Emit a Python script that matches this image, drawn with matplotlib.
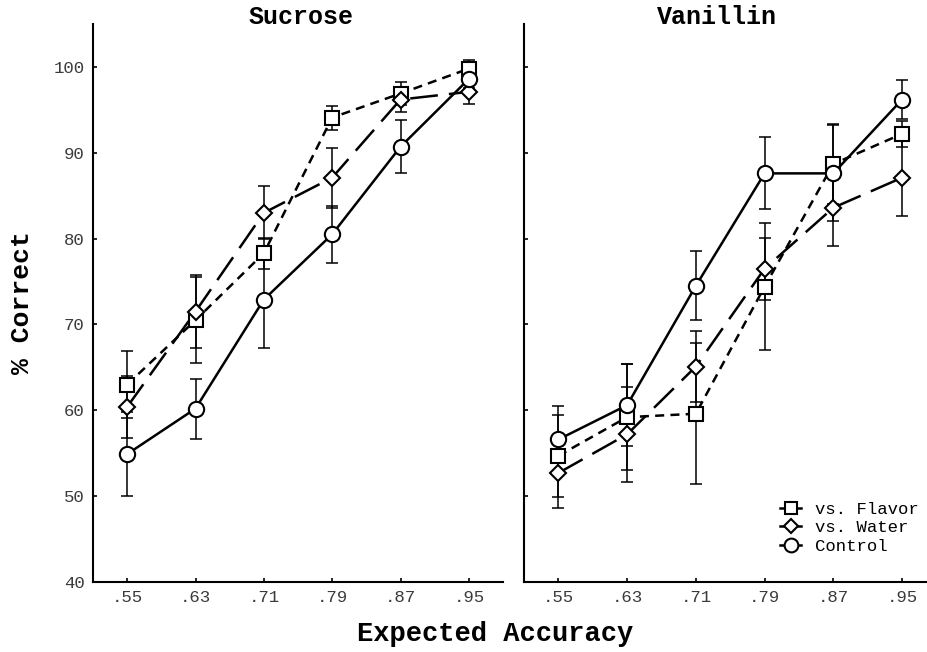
import matplotlib
matplotlib.use("Agg")
import matplotlib.pyplot as plt
from matplotlib.lines import Line2D

plt.rcParams['font.family'] = ['Liberation Mono', 'DejaVu Sans Mono']
plt.rcParams['lines.scale_dashes'] = False

x_vals = [0.55, 0.63, 0.71, 0.79, 0.87, 0.95]
x_labels = ['.55', '.63', '.71', '.79', '.87', '.95']
y_ticks = [40, 50, 60, 70, 80, 90, 100]

# Sucrose
suc_flavor = [63.0, 70.5, 78.3, 94.1, 96.9, 99.8]
suc_flavor_err = [3.9, 5.0, 1.8, 1.4, 1.3, 1.0]
suc_water = [60.4, 71.5, 83.0, 87.1, 96.2, 97.1]
suc_water_err = [3.6, 4.3, 3.1, 3.5, 1.5, 1.4]
suc_control = [54.9, 60.2, 72.9, 80.5, 90.7, 98.6]
suc_control_err = [4.9, 3.5, 5.7, 3.3, 3.1, 1.0]

# Vanillin
van_flavor = [54.7, 59.2, 59.6, 74.4, 88.7, 92.2]
van_flavor_err = [4.8, 6.2, 8.2, 7.4, 4.7, 1.5]
van_water = [52.7, 57.2, 65.1, 76.5, 83.6, 87.1]
van_water_err = [4.1, 5.5, 4.1, 3.6, 4.5, 4.5]
van_control = [56.6, 60.6, 74.5, 87.6, 87.6, 96.2]
van_control_err = [3.9, 4.8, 4.0, 4.2, 5.6, 2.3]

series_names = ['vs. Flavor', 'vs. Water', 'Control']

styles = [
    dict(marker='s', ms=10, dashes=(6.5, 4.5)),
    dict(marker='D', ms=8, dashes=(20, 8)),
    dict(marker='o', ms=11, dashes=None),
]

fig = plt.figure(figsize=(9.27, 6.52), dpi=100)
W, H = 927.0, 652.0
ax1 = fig.add_axes([93 / W, 70 / H, 410 / W, 558 / H])
ax2 = fig.add_axes([524 / W, 70 / H, 403 / W, 558 / H])

def draw(ax, data, xlim):
    for (vals, errs), st in zip(data, styles):
        ax.errorbar(x_vals, vals, yerr=errs, fmt='none', ecolor='black',
                    elinewidth=1.1, capsize=4, capthick=1.1, zorder=2)
    for (vals, errs), st, name in zip(data, styles, series_names):
        ln, = ax.plot(x_vals, vals, color='black', lw=1.8, marker=st['marker'],
                      ms=st['ms'], mfc='white', mec='black', mew=1.5,
                      label=name, zorder=3)
        if st['dashes'] is not None:
            ln.set_dashes(st['dashes'])
    ax.set_xlim(*xlim)
    ax.set_ylim(40, 105)
    ax.set_xticks(x_vals)
    ax.set_xticklabels(x_labels)
    ax.set_yticks(y_ticks)
    for s in ['top', 'right']:
        ax.spines[s].set_visible(False)
    for s in ['left', 'bottom']:
        ax.spines[s].set_linewidth(1.5)
    ax.tick_params(direction='in', length=3, width=1.2, labelsize=12.5,
                   labelcolor='#3a3a3a', pad=6)

draw(ax1, [(suc_flavor, suc_flavor_err), (suc_water, suc_water_err),
           (suc_control, suc_control_err)], (0.51, 0.99))
draw(ax2, [(van_flavor, van_flavor_err), (van_water, van_water_err),
           (van_control, van_control_err)], (0.51, 0.979))
ax1.set_yticklabels([str(v) for v in y_ticks])
ax2.set_yticklabels([])

handles = []
for st, name in zip(styles, series_names):
    h = Line2D([0], [0], color='black', lw=1.8, marker=st['marker'], ms=st['ms'] * 0.9,
               mfc='white', mec='black', mew=1.5)
    handles.append(h)
ax2.legend(handles, series_names, loc='lower right', bbox_to_anchor=(1.0, 0.035),
           frameon=False, fontsize=12.4, handlelength=1.2, handletextpad=0.8,
           labelspacing=0.2, borderaxespad=0.1)

fig.text(301 / W, 1 - 17 / H, 'Sucrose', ha='center', va='center',
         fontsize=18, fontweight='bold')
fig.text(717 / W, 1 - 17 / H, 'Vanillin', ha='center', va='center',
         fontsize=18, fontweight='bold')
fig.text(495 / W, 1 - 634 / H, 'Expected Accuracy', ha='center', va='center',
         fontsize=19.5, fontweight='bold')
fig.text(22 / W, 1 - 303 / H, '% Correct', ha='center', va='center',
         rotation=90, fontsize=19, fontweight='bold')

fig.savefig('out.png', dpi=100)
